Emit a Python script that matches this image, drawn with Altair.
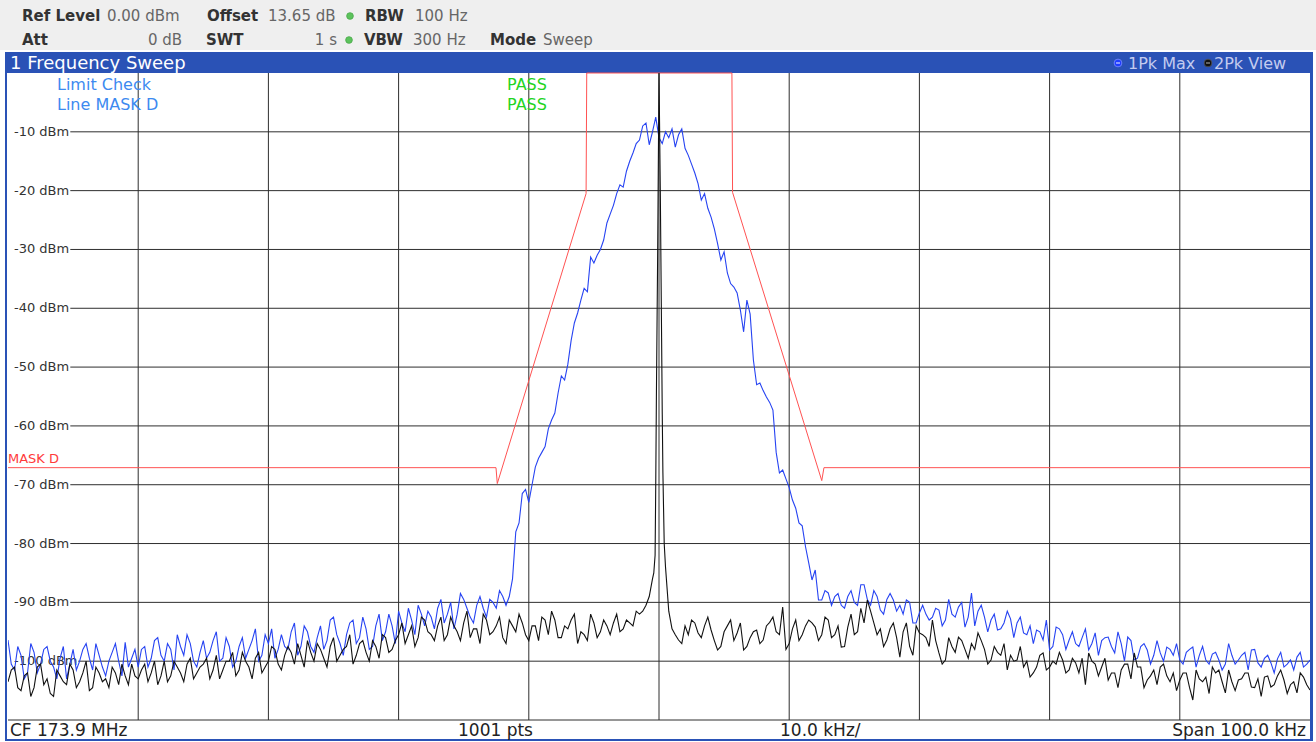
import altair as alt
import pandas as pd

# Plot area (the trace window) in pixels
PLOT_W, PLOT_H = 1302, 647

# Frequency span around the 173.9 MHz centre, and the level range
span_khz = [-50, 50]
level_db = [-110, 0]

grid_khz = [-40, -30, -20, -10, 0, 10, 20, 30, 40]
level_ticks = [-10, -20, -30, -40, -50, -60, -70, -80, -90, -100]

# Sweep points: a coarse set every 0.5 kHz and the points half way between them
sweep_khz = [round(-50 + 0.5 * i, 2) for i in range(201)]
mid_khz = [round(-49.75 + 0.5 * j, 2) for j in range(200)]

# Trace 1: 1Pk Max (dBm) on sweep_khz
trace1_dbm = [
    -96.4, -101.5, -99.0, -102.0, -98.5, -100.5, -97.5, -101.0, -99.5, -103.0,
    -98.0, -100.0, -97.0, -101.5, -99.0, -102.5, -98.5, -100.0, -96.8, -99.5,
    -101.0, -97.5, -99.5, -96.0, -100.0, -98.0, -95.5, -99.0, -97.0, -101.0,
    -96.5, -98.5, -95.0, -99.5, -97.5, -100.0, -96.0, -98.0, -94.5, -99.0,
    -97.0, -99.5, -95.5, -98.0, -93.5, -97.5, -95.0, -98.5, -94.0, -96.5,
    -92.5, -97.0, -95.5, -93.0, -96.0, -94.5, -97.5, -92.0, -95.0, -94.0,
    -91.5, -95.0, -93.0, -90.5, -94.0, -92.5, -91.0, -93.5, -90.0, -92.0,
    -89.5, -92.5, -90.5, -91.0, -89.5, -91.0, -89.0,
    -89.0, -78.0, -71.5, -73.0, -67.0, -64.5, -60.5, -57.8, -51.5, -49.5,
    -42.5, -38.6, -37.2, -32.3, -30.0, -25.5, -22.5, -19.0, -16.7, -13.6,
    -11.4, -8.5, -10.0, -11.0, -10.0, -9.5, -10.5, -12.8, -15.5, -18.8,
    -20.5, -24.5, -29.0, -30.4, -35.8, -37.4, -44.0, -41.0, -53.0, -54.0,
    -56.0, -64.5, -67.5, -70.5, -74.0, -77.0, -83.3, -84.5, -89.6, -88.4,
    -89.0,
    -90.5, -89.0, -90.0, -87.0, -89.5, -88.0, -91.3, -89.5, -89.6, -90.5,
    -89.6, -93.5, -91.8, -92.0, -92.5, -91.3, -93.0, -92.0, -90.8, -94.2,
    -88.4, -91.5, -92.5, -93.0, -94.7, -93.5, -92.8, -93.5, -95.2, -94.0,
    -94.7, -96.4, -98.1, -94.2, -95.5, -96.4, -97.0, -96.0, -98.1, -95.2,
    -96.5, -95.9, -98.6, -97.0, -95.9, -99.8, -97.5, -98.1, -99.0, -98.6,
    -97.6, -99.0, -99.8, -98.5, -97.6, -99.0, -99.8, -98.8, -99.8, -100.5,
    -99.0, -99.8, -98.5, -98.1, -100.3, -99.5, -100.3, -99.6, -101.0, -99.8,
    -99.3, -101.0, -99.8,
]

# Trace 1 on mid_khz
trace1_mid_dbm = [
    -100.5, -97.5, -103.0, -97.0, -102.0, -98.0, -100.0, -103.0, -97.5, -100.5,
    -101.5, -98.0, -99.5, -97.0, -101.0, -100.0, -97.0, -102.5, -101.0, -98.0,
    -98.0, -101.0, -96.5, -99.0, -97.0, -101.5, -97.5, -95.5, -100.0, -98.5,
    -99.5, -96.5, -100.0, -96.0, -101.0, -97.5, -99.5, -96.5, -100.0, -95.5,
    -94.5, -98.0, -97.5, -95.0, -99.0, -94.0, -97.5, -96.0, -98.0, -93.0,
    -95.5, -99.0, -93.5, -97.0, -92.5, -98.0, -94.0, -96.5, -92.0, -97.0,
    -93.5, -91.0, -95.5, -92.0, -91.5, -94.5, -89.5, -92.0, -94.5, -88.5,
    -91.0, -93.5, -89.0, -92.5, -90.0, -88.0, -90.5,
    -86.0, -76.5, -70.8, -70.0, -65.5, -63.5, -59.0, -54.4, -52.2, -45.5,
    -40.8, -36.6, -31.3, -31.0, -28.4, -24.0, -20.5, -19.4, -15.0, -12.0,
    -9.0, -12.2, -7.5, -12.0, -11.0, -12.6, -9.5, -14.0, -17.0, -21.6,
    -23.0, -26.5, -31.8, -34.0, -36.4, -40.3, -38.6, -48.8, -52.7, -55.1,
    -57.3, -68.0, -69.0, -72.6, -76.5, -80.5, -86.2, -89.6, -88.0, -90.5,
    -88.5, -91.0, -88.0, -90.5, -87.0, -90.5, -89.0, -92.0, -88.5, -91.5,
    -92.0, -90.0, -93.5, -90.5, -93.0, -91.0, -94.0, -89.5, -92.5, -90.0,
    -92.5, -94.0, -90.5, -95.0, -92.0, -94.5, -91.5, -96.0, -92.5, -95.5,
    -97.0, -95.0, -93.0, -97.5, -94.5, -98.0, -95.0, -97.5, -94.5, -97.0,
    -99.0, -96.0, -97.5, -95.0, -100.0, -96.5, -99.5, -97.0, -100.5, -96.5,
    -100.0, -98.0, -97.0, -100.5, -98.0, -101.0, -97.5, -100.5, -98.5, -101.5,
    -97.0, -100.5, -99.0, -101.5, -98.0, -101.0, -99.0, -102.0, -98.5, -100.5,
    -101.5, -98.5, -100.5,
]

# Trace 2: 2Pk View (dBm) on sweep_khz
trace2_dbm = [
    -103.5, -101.0, -105.0, -102.0, -104.5, -100.5, -103.0, -106.0, -102.5, -104.0,
    -101.5, -103.5, -100.0, -104.5, -102.0, -103.0, -101.0, -104.0, -102.5, -100.5,
    -103.0, -100.5, -102.0, -104.0, -100.0, -102.5, -101.0, -103.5, -99.5, -102.0,
    -100.5, -103.0, -99.0, -101.5, -100.0, -102.5, -98.5, -101.0, -99.5, -102.0,
    -100.0, -98.0, -101.5, -97.5, -100.5, -99.0, -96.5, -100.0, -98.0, -101.0,
    -96.0, -99.0, -97.5, -100.5, -97.0, -98.5, -96.5, -99.5, -96.0, -98.0,
    -95.5, -97.0, -94.0, -96.0, -93.0, -95.5, -94.0, -96.5, -92.5, -95.0,
    -93.5, -96.0, -94.5, -92.0, -95.5, -94.0, -96.0, -93.0, -95.0, -93.5,
    -96.5, -94.0, -92.5, -95.5, -93.0, -96.0, -94.5, -92.0, -95.0, -96.5,
    -93.5, -95.0, -94.0,
    -93.5, -95.0, -93.0, -94.0, -92.0, -90.5, -86.0, 0.0, -84.0,
    -94.5, -96.4, -94.0, -93.0, -95.2, -94.0, -94.7, -98.1, -95.0, -93.0,
    -95.2, -98.1, -96.0, -94.7, -96.4, -93.4, -95.0, -90.8, -97.0, -93.0,
    -95.5, -93.0, -94.2, -95.5, -93.0, -95.5, -97.6, -94.2, -95.5, -91.0,
    -89.6, -93.5, -94.5,
    -96.4, -93.5, -99.3, -93.5, -99.0, -95.2, -96.0, -93.0, -98.6, -99.8,
    -97.5, -95.9, -98.0, -97.0, -95.2, -98.0, -99.8, -98.5, -97.0, -99.0,
    -99.8, -101.0, -102.7, -101.0, -98.6, -101.0, -100.5, -99.8, -101.5, -100.3,
    -99.5, -98.6, -100.5, -101.0, -103.2, -102.0, -101.5, -100.5, -98.6, -101.0,
    -103.2, -101.5, -101.0, -102.5, -102.0, -103.2, -102.0, -106.6, -103.0, -102.7,
    -101.0, -101.5, -105.4, -103.5, -103.2, -102.0, -104.4, -103.0, -102.7, -104.4,
    -102.5, -103.2, -104.0, -105.4, -102.7, -104.9,
]

# Trace 2 on mid_khz
trace2_mid_dbm = [
    -101.5, -104.5, -102.5, -106.0, -101.0, -104.0, -105.5, -101.5, -103.5, -100.5,
    -104.5, -102.0, -105.0, -101.0, -103.5, -104.5, -102.0, -100.5, -104.0, -102.5,
    -101.5, -103.5, -100.0, -102.5, -103.5, -100.0, -102.0, -100.5, -103.0, -101.0,
    -99.5, -101.5, -103.0, -100.0, -98.5, -101.5, -100.0, -103.0, -98.5, -101.0,
    -97.5, -100.5, -99.0, -98.5, -97.0, -101.0, -98.5, -97.0, -99.5, -97.5,
    -100.0, -98.0, -95.5, -99.0, -96.5, -100.0, -97.5, -95.5, -98.5, -96.5,
    -93.5, -95.5, -97.5, -92.5, -95.0, -96.5, -92.5, -95.5, -94.0, -96.5,
    -91.5, -94.5, -97.0, -93.0, -95.0, -92.5, -97.0, -94.0, -92.0, -95.5,
    -94.0, -96.5, -93.0, -91.5, -96.0, -94.0, -93.0, -97.0, -95.5, -92.0,
    -96.0, -93.0, -95.5, -92.0, -94.5, -93.5, -91.5,
    -91.5, -89.0, -70.0, -58.0, -91.5, -95.5,
    -97.0, -95.5, -93.5, -96.0, -92.5, -96.5, -97.5, -94.0, -96.5, -93.5,
    -97.5, -95.0, -97.0, -94.0, -92.5, -95.5, -98.0, -94.5, -96.5, -94.0,
    -93.5, -96.5, -92.5, -96.0,
    -94.0, -97.5, -92.0, -95.0, -93.5, -91.5, -95.5, -97.5, -94.5, -96.0,
    -95.0, -97.5, -94.0, -95.5, -97.5, -96.5, -100.5, -96.0, -98.5, -96.5,
    -99.5, -98.0, -96.5, -100.5, -97.5, -99.0, -101.5, -100.0, -97.5, -100.0,
    -102.0, -99.0, -101.5, -100.0, -98.5, -102.0, -99.5, -102.0, -104.0, -100.0,
    -102.5, -99.5, -102.0, -104.5, -100.5, -103.0, -101.0, -104.5, -102.5, -104.0,
    -100.5, -103.5, -105.0, -102.0, -104.5, -101.5, -103.5, -105.5, -102.0, -103.5,
    -101.5, -105.0, -103.0, -102.0, -104.5, -106.0, -102.5, -104.0, -101.5, -105.5,
    -103.5, -102.0, -104.0,
]

# Extra trace 2 points on the flanks of the carrier
carrier_khz = [-0.4, -0.3, -0.2, -0.1, 0.1, 0.2, 0.3, 0.4]
carrier_dbm = [-85.0, -82.0, -55.0, -30.0, -20.0, -45.0, -68.0, -80.0]

# Limit line MASK D
mask_khz = [-50, -12.52, -12.42, -5.6, -5.55, 5.6, 5.65, 12.5, 12.67, 50]
mask_dbm = [-67.1, -67.1, -69.8, -20.5, 0.0, 0.0, -20.3, -69.3, -67.1, -67.1]

x_scale = alt.Scale(domain=span_khz, nice=False, zero=False)
y_scale = alt.Scale(domain=level_db, nice=False, zero=False)
X = lambda f: alt.X(f, type="quantitative", scale=x_scale, axis=None)
Y = lambda f: alt.Y(f, type="quantitative", scale=y_scale, axis=None)

one = pd.DataFrame({"k": [0]})
FONT = "DejaVu Sans"


def box(x, y, x2, y2, color):
    return alt.Chart(one).mark_rect(color=color).encode(
        x=alt.value(x), x2=alt.value(x2), y=alt.value(y), y2=alt.value(y2)
    )


def label(text, x, y, size=15, color="#333333", weight="normal", align="left"):
    return alt.Chart(one).mark_text(
        text=text, font=FONT, fontSize=size, color=color, fontWeight=weight,
        align=align, baseline="alphabetic",
    ).encode(x=alt.value(x), y=alt.value(y))


def dot(x, y, fill, stroke, size=60):
    return alt.Chart(one).mark_circle(
        size=size, fill=fill, stroke=stroke, strokeWidth=0.8, opacity=1,
        fillOpacity=1,
    ).encode(x=alt.value(x), y=alt.value(y))


def dash(x, y, color):
    return alt.Chart(one).mark_rule(color=color, strokeWidth=1.2).encode(
        x=alt.value(x - 2), x2=alt.value(x + 2), y=alt.value(y)
    )


def sweep(base_khz, base_dbm, extra_khz, extra_dbm, extra2_khz=(), extra2_dbm=()):
    df = pd.concat([
        pd.DataFrame({"khz": base_khz, "dbm": base_dbm}),
        pd.DataFrame({"khz": extra_khz, "dbm": extra_dbm}),
        pd.DataFrame({"khz": list(extra2_khz), "dbm": list(extra2_dbm)}),
    ])
    return df.sort_values("khz").reset_index(drop=True)


# ---- frame: header strip, title bar, panel border ----
header_bg = box(-8, -73, 1308, -23, "#efefef")
title_bar = box(-3, -21, 1305, 0, "#2a52b6")
border_l = box(-3, -21, -1, 668, "#2a52b6")
border_r = box(1302, -21, 1305, 668, "#2a52b6")
border_b = box(-3, 666, 1305, 668, "#2a52b6")

# ---- grid ----
vgrid = alt.Chart(pd.DataFrame({"khz": grid_khz})).mark_rule(
    color="#2e2e2e", strokeWidth=1
).encode(x=X("khz"), y=alt.value(0), y2=alt.value(PLOT_H))

ticks_df = pd.DataFrame({"dbm": level_ticks, "label": [f"{v} dBm" for v in level_ticks]})
hgrid = alt.Chart(ticks_df).transform_calculate(
    start="-50 + (7 + 7.9 * length(datum.label)) / 13.02"
).mark_rule(color="#2e2e2e", strokeWidth=1).encode(
    x=X("start"), x2=alt.value(PLOT_W), y=Y("dbm")
)
bottom_line = alt.Chart(one).mark_rule(color="#2e2e2e", strokeWidth=1).encode(
    x=alt.value(0), x2=alt.value(PLOT_W), y=alt.value(PLOT_H)
)
ylabels = alt.Chart(ticks_df).mark_text(
    font=FONT, fontSize=13, color="#333333", align="left", baseline="middle"
).encode(x=alt.value(6), y=Y("dbm"), text="label:N")

# ---- traces ----
mask_df = pd.DataFrame({"khz": mask_khz, "dbm": mask_dbm, "i": range(len(mask_khz))})
mask = alt.Chart(mask_df).mark_line(color="#ff5252", strokeWidth=1).encode(
    x=X("khz"), y=Y("dbm"), order="i:Q"
)

t1 = sweep(sweep_khz, trace1_dbm, mid_khz, trace1_mid_dbm)
trace1 = alt.Chart(t1).mark_line(color="#2643f2", strokeWidth=1.1, clip=True).encode(
    x=X("khz"), y=Y("dbm")
)

t2 = sweep(sweep_khz, trace2_dbm, mid_khz, trace2_mid_dbm, carrier_khz, carrier_dbm)
trace2 = alt.Chart(t2).mark_line(color="#111111", strokeWidth=1.1, clip=True).encode(
    x=X("khz"), y=Y("dbm")
)

# ---- texts ----
layers = [
    header_bg, title_bar,
    vgrid, hgrid, bottom_line, ylabels,
    mask, trace1, trace2,
    border_l, border_r, border_b,
    # header row 1
    label("Ref Level", 14, -52, weight="bold"),
    label("0.00 dBm", 99, -52, color="#666666"),
    label("Offset", 199, -52, weight="bold"),
    label("13.65 dB", 260, -52, color="#666666"),
    dot(342, -57, "#5cc35c", "#4aa84a", 45),
    label("RBW", 357, -52, weight="bold"),
    label("100 Hz", 407, -52, color="#666666"),
    # header row 2
    label("Att", 14, -28, weight="bold"),
    label("0 dB", 174, -28, color="#666666", align="right"),
    label("SWT", 198, -28, weight="bold"),
    label("1 s", 329, -28, color="#666666", align="right"),
    dot(341, -33, "#5cc35c", "#4aa84a", 45),
    label("VBW", 356, -28, weight="bold"),
    label("300 Hz", 405, -28, color="#666666"),
    label("Mode", 482, -28, weight="bold"),
    label("Sweep", 535, -28, color="#666666"),
    # title bar
    label("1 Frequency Sweep", 2, -4, size=18, color="#ffffff"),
    dot(1110, -10, "#1f3cff", "#7d90ff", 60),
    dash(1110, -10, "#d0d8ff"),
    label("1Pk Max", 1120, -4, size=16, color="#c3cbef"),
    dot(1200, -10, "#111111", "#555555", 60),
    dash(1200, -10, "#9a9a9a"),
    label("2Pk View", 1206, -4, size=16, color="#c3cbef"),
    # limit check info
    label("Limit Check", 49, 17, size=16, color="#3d8af0"),
    label("Line MASK D", 49, 37, size=16, color="#3d8af0"),
    label("PASS", 499, 17, size=16, color="#22d422"),
    label("PASS", 499, 37, size=16, color="#22d422"),
    label("MASK D", 0, 390, size=13, color="#ff3b3b"),
    # footer
    label("CF 173.9 MHz", 2, 663, size=17, color="#222222"),
    label("1001 pts", 450, 663, size=17, color="#222222"),
    label("10.0 kHz/", 772, 663, size=17, color="#222222"),
    label("Span 100.0 kHz", 1298, 663, size=17, color="#222222", align="right"),
]

chart = alt.layer(*layers).properties(
    width=PLOT_W,
    height=PLOT_H,
    padding={"left": 8, "top": 73, "right": 6, "bottom": 22},
    autosize=alt.AutoSizeParams(type="none"),
    background="#ffffff",
).configure_view(stroke=None)

chart.save("out.html", embed_options={"renderer": "svg", "actions": False})
